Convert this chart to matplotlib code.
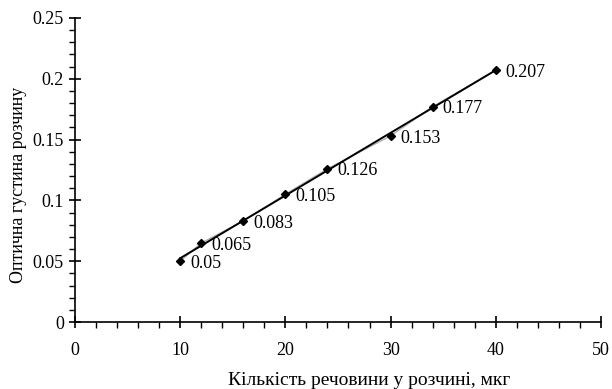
import numpy as np
import matplotlib
matplotlib.use('Agg')
import matplotlib.pyplot as plt
from matplotlib.ticker import MultipleLocator

# data
amount = [10, 12, 16, 20, 24, 30, 34, 40]
density = [0.05, 0.065, 0.083, 0.105, 0.126, 0.153, 0.177, 0.207]

plt.rcParams['font.family'] = ['Liberation Serif', 'DejaVu Serif']

fig = plt.figure(figsize=(6.12, 3.89), dpi=100)
ax = fig.add_axes([0.1225, 0.172, 0.8595, 0.782])

# raw points joined (grey) and linear trend (black)
ax.plot(amount, density, color='#b0b0b0', lw=1.0, zorder=2)
k, b = np.polyfit(amount, density, 1)
xf = np.array([min(amount), max(amount)])
ax.plot(xf, k * xf + b, color='black', lw=1.4, zorder=3)
ax.plot(amount, density, 'D', color='black', ms=4, zorder=4)

for x, y in zip(amount, density):
    ax.annotate(f'{y:g}', (x, y), xytext=(7, -1.5), textcoords='offset points',
                fontsize=13, va='center', ha='left')

ax.set_xlim(0, 50)
ax.set_ylim(0, 0.25)
ax.xaxis.set_major_locator(MultipleLocator(10))
ax.xaxis.set_minor_locator(MultipleLocator(2))
ax.yaxis.set_minor_locator(MultipleLocator(0.01))
ax.set_yticks([0, 0.05, 0.1, 0.15, 0.2, 0.25])
ax.set_yticklabels(['0', '0.05', '0.1', '0.15', '0.2', '0.25'])

ax.tick_params(which='major', direction='inout', length=8, width=1.2, labelsize=13)
ax.tick_params(which='minor', direction='out', length=4, width=1.0)
ax.tick_params(axis='x', which='major', pad=10)
ax.tick_params(axis='y', which='major', pad=4)

for s in ['top', 'right']:
    ax.spines[s].set_visible(False)
for s in ['left', 'bottom']:
    ax.spines[s].set_linewidth(1.2)

ax.set_xlabel('Кількість речовини у розчині, мкг', fontsize=14)
ax.xaxis.set_label_coords(0.56, -0.165)
ax.set_ylabel('Оптична густина розчину', fontsize=13)
ax.yaxis.set_label_coords(-0.092, 0.45)

plt.savefig('out.png', dpi=100)
plt.close()
